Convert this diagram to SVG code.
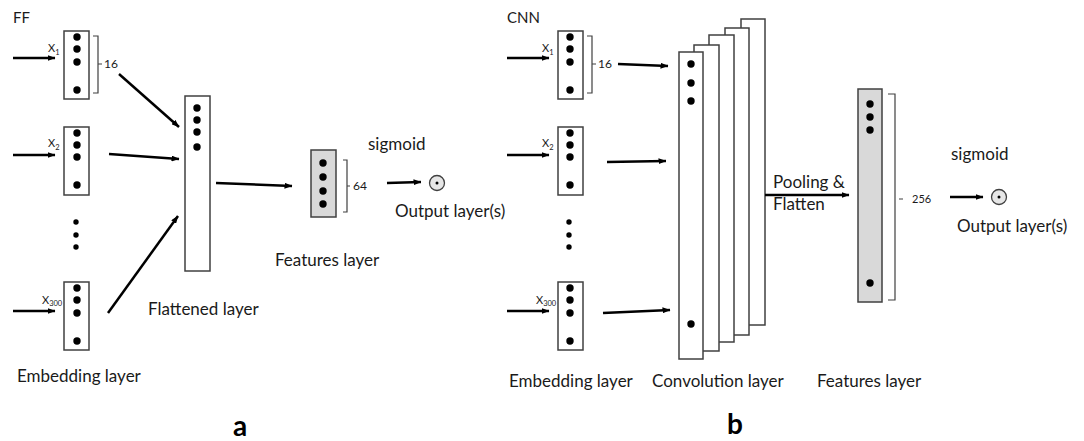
<svg xmlns="http://www.w3.org/2000/svg" width="1084" height="441" viewBox="0 0 1084 441">
<defs>
<marker id="ah" markerWidth="8" markerHeight="6" refX="7.5" refY="3" orient="auto" markerUnits="userSpaceOnUse">
<path d="M0,0 L8,3 L0,6 Z" fill="#000"/>
</marker>
<style>
.box{fill:#fff;stroke:#404040;stroke-width:1.5}
.gbox{fill:#d9d9d9;stroke:#404040;stroke-width:1.5}
.dot{fill:#000}
.arr{stroke:#000;stroke-width:2.5;fill:none;marker-end:url(#ah)}
.brk{stroke:#404040;stroke-width:1.2;fill:none}
.t{font-family:Lato,"Liberation Sans",sans-serif;fill:#1a1a1a;font-size:17px}
.s{font-family:Lato,"Liberation Sans",sans-serif;fill:#1a1a1a;font-size:12px}
.x{font-family:Lato,"Liberation Sans",sans-serif;fill:#1a1a1a;font-size:11px}
.sub{font-size:7.5px}
.big{font-family:Lato,"Liberation Sans",sans-serif;fill:#000;font-size:28px;font-weight:bold}
.out{fill:#e6e6e6;stroke:#404040;stroke-width:1.3}
</style>
</defs>

<!-- Panel a -->
<text class="t" x="13" y="23" style="font-size:15px">FF</text>

<g id="a-emb1">
<rect class="box" x="64" y="31" width="25" height="68"/>
<circle class="dot" cx="77" cy="37" r="3.7"/><circle class="dot" cx="77" cy="49" r="3.7"/><circle class="dot" cx="77" cy="62" r="3.7"/><circle class="dot" cx="77" cy="90" r="3.7"/>
<text class="x" x="48" y="52">X<tspan class="sub" dy="3">1</tspan></text>
<path class="brk" d="M93,36 H98 V93 H93 M98,64 H102"/>
<text class="s" x="104" y="68">16</text>
</g>
<g id="a-emb2">
<rect class="box" x="64" y="127" width="25" height="68"/>
<circle class="dot" cx="77" cy="133" r="3.7"/><circle class="dot" cx="77" cy="145" r="3.7"/><circle class="dot" cx="77" cy="157" r="3.7"/><circle class="dot" cx="77" cy="185" r="3.7"/>
<text class="x" x="48" y="147">X<tspan class="sub" dy="3">2</tspan></text>
</g>
<g id="a-vdots">
<circle class="dot" cx="76" cy="222" r="2.7"/><circle class="dot" cx="76" cy="235" r="2.7"/><circle class="dot" cx="76" cy="247" r="2.7"/>
</g>
<g id="a-emb3">
<rect class="box" x="64" y="282" width="25" height="68"/>
<circle class="dot" cx="77" cy="288" r="3.7"/><circle class="dot" cx="77" cy="300" r="3.7"/><circle class="dot" cx="77" cy="313" r="3.7"/><circle class="dot" cx="77" cy="341" r="3.7"/>
<text class="x" x="42" y="304">X<tspan class="sub" dy="2">300</tspan></text>
</g>
<g id="a-flat">
<rect class="box" x="185" y="96" width="25" height="175"/>
<circle class="dot" cx="197" cy="108" r="3.7"/><circle class="dot" cx="197" cy="120" r="3.7"/><circle class="dot" cx="197" cy="132" r="3.7"/><circle class="dot" cx="197" cy="147" r="3.7"/>
</g>
<g id="a-feat">
<rect class="gbox" x="311" y="150" width="25" height="67"/>
<circle class="dot" cx="323" cy="163" r="3.7"/><circle class="dot" cx="323" cy="177" r="3.7"/><circle class="dot" cx="323" cy="191" r="3.7"/><circle class="dot" cx="323" cy="204" r="3.7"/>
<path class="brk" d="M343,160 H347 V212 H343 M347,186 H350"/>
<text class="s" x="353" y="190">64</text>
</g>
<g id="a-out">
<circle class="out" cx="437" cy="183" r="7.5"/>
<circle class="dot" cx="437" cy="183" r="1.5"/>
<text class="t" x="368" y="150">sigmoid</text>
<text class="t" x="395" y="217">Output layer(s)</text>
</g>
<text class="t" x="17" y="382">Embedding layer</text>
<text class="t" x="148" y="315">Flattened layer</text>
<text class="t" x="275" y="266">Features layer</text>
<text class="big" x="233" y="436">a</text>

<!-- Panel b -->
<text class="t" x="507" y="23" style="font-size:15px">CNN</text>
<g id="b-emb1">
<rect class="box" x="558" y="31" width="25" height="68"/>
<circle class="dot" cx="570" cy="37" r="3.7"/><circle class="dot" cx="570" cy="49" r="3.7"/><circle class="dot" cx="570" cy="62" r="3.7"/><circle class="dot" cx="570" cy="90" r="3.7"/>
<text class="x" x="542" y="52">X<tspan class="sub" dy="3">1</tspan></text>
<path class="brk" d="M587,36 H592 V93 H587 M592,64 H596"/>
<text class="s" x="598" y="68">16</text>
</g>
<g id="b-emb2">
<rect class="box" x="558" y="127" width="25" height="68"/>
<circle class="dot" cx="570" cy="133" r="3.7"/><circle class="dot" cx="570" cy="145" r="3.7"/><circle class="dot" cx="570" cy="157" r="3.7"/><circle class="dot" cx="570" cy="185" r="3.7"/>
<text class="x" x="542" y="147">X<tspan class="sub" dy="3">2</tspan></text>
</g>
<g id="b-vdots">
<circle class="dot" cx="569" cy="222" r="2.7"/><circle class="dot" cx="569" cy="235" r="2.7"/><circle class="dot" cx="569" cy="247" r="2.7"/>
</g>
<g id="b-emb3">
<rect class="box" x="558" y="282" width="25" height="68"/>
<circle class="dot" cx="570" cy="288" r="3.7"/><circle class="dot" cx="570" cy="300" r="3.7"/><circle class="dot" cx="570" cy="313" r="3.7"/><circle class="dot" cx="570" cy="341" r="3.7"/>
<text class="x" x="536" y="304">X<tspan class="sub" dy="2">300</tspan></text>
</g>
<g id="b-conv">
<rect class="box" x="741" y="19" width="24" height="306"/>
<rect class="box" x="725" y="28" width="24" height="307"/>
<rect class="box" x="709" y="35" width="25" height="307"/>
<rect class="box" x="694" y="45" width="25" height="306"/>
<rect class="box" x="679" y="52" width="24" height="307"/>
<circle class="dot" cx="691" cy="64" r="3.7"/><circle class="dot" cx="691" cy="83" r="3.7"/><circle class="dot" cx="691" cy="101" r="3.7"/><circle class="dot" cx="691" cy="324" r="3.7"/>
</g>
<g id="b-feat">
<rect class="gbox" x="858" y="89" width="24" height="213"/>
<circle class="dot" cx="870" cy="104" r="3.7"/><circle class="dot" cx="870" cy="117" r="3.7"/><circle class="dot" cx="870" cy="130" r="3.7"/><circle class="dot" cx="870" cy="283" r="3.7"/>
<path class="brk" d="M888,94 H895 V300 H888 M899,199 H903"/>
<text class="s" x="912" y="203" style="font-size:11px">256</text>
</g>
<g id="b-out">
<circle class="out" cx="999" cy="197" r="7.5"/>
<circle class="dot" cx="999" cy="197" r="1.5"/>
<text class="t" x="951" y="160">sigmoid</text>
<text class="t" x="957" y="232">Output layer(s)</text>
</g>
<text class="t" x="773" y="188">Pooling &amp;</text>
<text class="t" x="773" y="210">Flatten</text>
<text class="t" x="509" y="387">Embedding layer</text>
<text class="t" x="652" y="387">Convolution layer</text>
<text class="t" x="817" y="387">Features layer</text>
<text class="big" x="727" y="434">b</text>

<g id="connectors">
<line class="arr" x1="13" y1="58" x2="55" y2="58"/>
<line class="arr" x1="13" y1="155" x2="55" y2="155"/>
<line class="arr" x1="13" y1="311" x2="55" y2="311"/>
<line class="arr" x1="119" y1="74" x2="179" y2="127"/>
<line class="arr" x1="109" y1="154" x2="179" y2="159"/>
<line class="arr" x1="108" y1="313" x2="178" y2="216"/>
<line class="arr" x1="216" y1="183" x2="292" y2="186"/>
<line class="arr" x1="387" y1="183" x2="421" y2="182"/>
<line class="arr" x1="507" y1="58" x2="549" y2="58"/>
<line class="arr" x1="507" y1="155" x2="549" y2="155"/>
<line class="arr" x1="507" y1="311" x2="549" y2="311"/>
<line class="arr" x1="618" y1="64" x2="668" y2="66"/>
<line class="arr" x1="607" y1="162" x2="666" y2="161"/>
<line class="arr" x1="603" y1="313" x2="670" y2="310"/>
<line class="arr" x1="765" y1="195" x2="849" y2="195"/>
<line class="arr" x1="950" y1="197" x2="983" y2="197"/>
</g>
</svg>
